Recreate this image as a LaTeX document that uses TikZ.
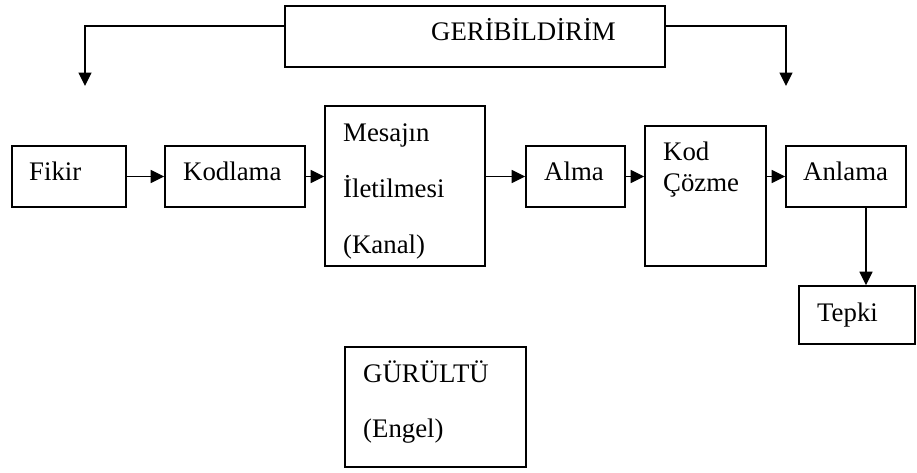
\documentclass[tikz,border=0pt]{standalone}
\usepackage{fontspec}
\setmainfont{Liberation Serif}
\usetikzlibrary{arrows.meta}
\begin{document}
\begin{tikzpicture}[x=1pt,y=-1pt,
  box/.style={draw=black,line width=1.6pt,rectangle,inner sep=0pt,fill=none},
  lbl/.style={anchor=base west,inner sep=0pt,font=\fontsize{26.8}{32}\selectfont},
  conn/.style={line width=1.4pt,-{Triangle[length=13.5pt,width=13pt]}}]
\useasboundingbox (0,0) rectangle (917,472);
% boxes
\node[box,minimum width=380pt,minimum height=61pt] (geri) at (475,36.5) {};
\node[box,minimum width=114pt,minimum height=61pt] (fikir) at (69,176.5) {};
\node[box,minimum width=140pt,minimum height=61pt] (kod) at (235,176.5) {};
\node[box,minimum width=160pt,minimum height=160pt] (mesaj) at (405,186) {};
\node[box,minimum width=99pt,minimum height=61pt] (alma) at (575.5,176.5) {};
\node[box,minimum width=121pt,minimum height=140pt] (cozme) at (705.5,196) {};
\node[box,minimum width=120pt,minimum height=61pt] (anlama) at (846,176.5) {};
\node[box,minimum width=116pt,minimum height=58pt] (tepki) at (857,315) {};
\node[box,minimum width=181pt,minimum height=120pt] (gurultu) at (435.5,407) {};
% labels
\node[lbl] (tgeri) at (431,40) {GERİBİLDİRİM};
\node[lbl] (tfikir) at (29,180) {Fikir};
\node[lbl] (tkod) at (183,180) {Kodlama};
\node[lbl] (tm1) at (343,141) {Mesajın};
\node[lbl] (tm2) at (343,197) {İletilmesi};
\node[lbl] (tm3) at (343,253) {(Kanal)};
\node[lbl] (talma) at (544,180) {Alma};
\node[lbl] (tc1) at (663,160) {Kod};
\node[lbl] (tc2) at (663,191) {Çözme};
\node[lbl] (tanl) at (803,180) {Anlama};
\node[lbl] (ttep) at (817,321) {Tepki};
\node[lbl] (tg1) at (363,382) {GÜRÜLTÜ};
\node[lbl] (tg2) at (363,437) {(Engel)};
% connectors
\coordinate (fbL) at (85,86);
\coordinate (fbR) at (786,86);
\draw[conn] ([yshift=10.5pt]geri.west) -| (fbL);
\draw[conn] ([yshift=10.5pt]geri.east) -| (fbR);
\draw[conn] (fikir.east) -- (kod.west);
\draw[conn] (kod.east) -- (kod.east -| mesaj.west);
\draw[conn] (kod.east -| mesaj.east) -- (alma.west);
\draw[conn] (alma.east) -- (alma.east -| cozme.west);
\draw[conn] (alma.east -| cozme.east) -- (anlama.west);
\draw[conn] ([xshift=20pt]anlama.south) -- ([xshift=9pt]tepki.north);
\end{tikzpicture}
\end{document}
